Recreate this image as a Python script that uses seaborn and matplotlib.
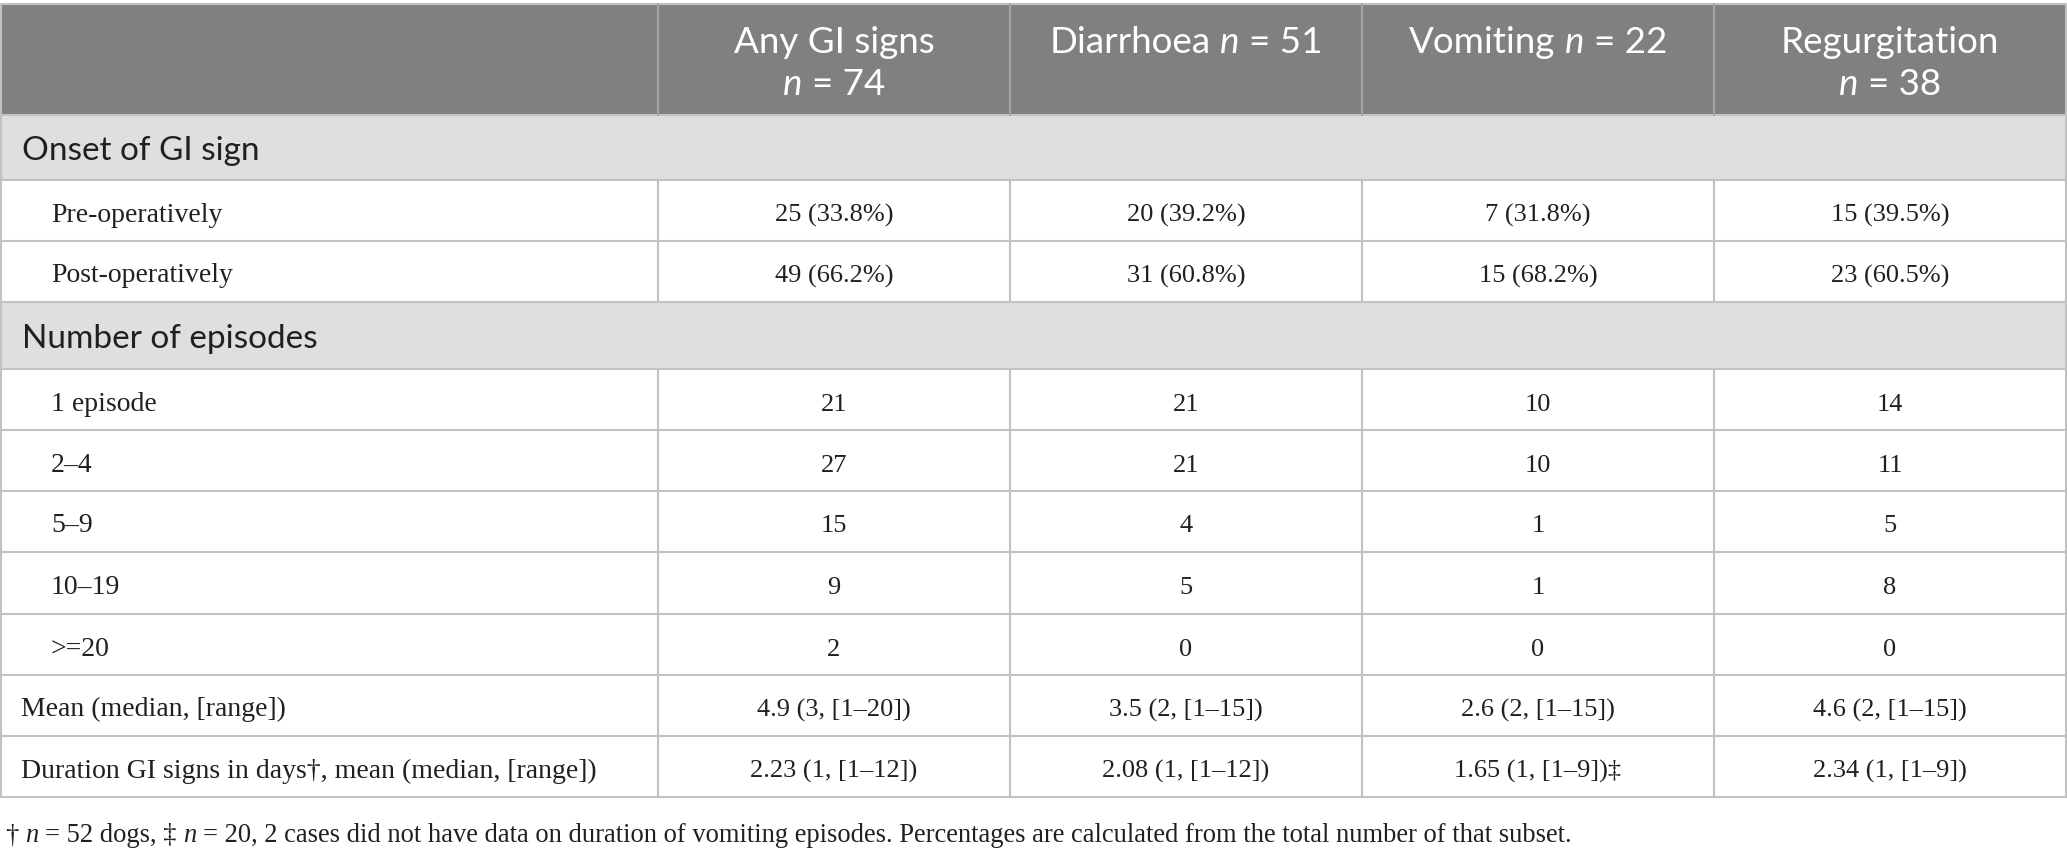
import matplotlib.pyplot as plt
import seaborn as sns
from matplotlib.patches import Rectangle

# table content
columns = ["Any GI signs", "Diarrhoea", "Vomiting", "Regurgitation"]
n_values = [74, 51, 22, 38]
two_line_header = [True, False, False, True]

onset_title = "Onset of GI sign"
onset_labels = ["Pre-operatively", "Post-operatively"]
onset_counts = [[25, 49], [20, 31], [7, 15], [15, 23]]
onset_pct = [[33.8, 66.2], [39.2, 60.8], [31.8, 68.2], [39.5, 60.5]]

episode_title = "Number of episodes"
episode_labels = ["1 episode", "2\u20134", "5\u20139", "10\u201319", ">=20"]
episode_counts = [[21, 27, 15, 9, 2],
                  [21, 21, 4, 5, 0],
                  [10, 10, 1, 1, 0],
                  [14, 11, 5, 8, 0]]

mean_label = "Mean (median, [range])"
mean_values = ["4.9 (3, [1\u201320])", "3.5 (2, [1\u201315])",
               "2.6 (2, [1\u201315])", "4.6 (2, [1\u201315])"]
duration_label = "Duration GI signs in days\u2020, mean (median, [range])"
duration_values = ["2.23 (1, [1\u201312])", "2.08 (1, [1\u201312])",
                   "1.65 (1, [1\u20139])\u2021", "2.34 (1, [1\u20139])"]

footnote = [("\u2020 ", False), ("n", True), (" = 52 dogs, \u2021 ", False), ("n", True),
            (" = 20, 2 cases did not have data on duration of vomiting episodes. "
             "Percentages are calculated from the total number of that subset.", False)]

sns.set_theme(style="white")
plt.rcParams['font.family'] = ['Liberation Serif', 'DejaVu Serif']

W, H = 2067, 849
fig = plt.figure(figsize=(W / 100, H / 100), dpi=100)
ax = fig.add_axes([0, 0, 1, 1])
ax.set_xlim(0, W)
ax.set_ylim(H, 0)
ax.axis('off')
renderer = fig.canvas.get_renderer()

header_bg = '#7f817f'
section_bg = '#e0dfe0'
line_col = '#c2c2c2'
head_line = '#a3a4a3'
ink = '#231f20'
sans = ['Lato', 'DejaVu Sans']
serif = ['Liberation Serif', 'DejaVu Serif']

col_edges = [0, 658, 1010, 1362, 1714, 2066]
col_mid = [(a + b) / 2 for a, b in zip(col_edges[1:-1], col_edges[2:])]
row_h = [111, 65, 61, 61, 67, 61, 61, 61, 62, 61, 61, 61]
row_kind = ['head', 'sec', 'body', 'body', 'sec'] + ['body'] * 7
tops = [4]
for h in row_h:
    tops.append(tops[-1] + h)


def width_of(s, **kw):
    t = ax.text(0, 0, "|" + s + "|", **kw)
    w1 = t.get_window_extent(renderer).width
    t.remove()
    t = ax.text(0, 0, "||", **kw)
    w2 = t.get_window_extent(renderer).width
    t.remove()
    return w1 - w2


def draw_runs(x, y, runs, ha='left', **kw):
    widths = [width_of(s, style='italic' if it else 'normal', **kw) for s, it in runs]
    pos = x - sum(widths) / 2 if ha == 'center' else x
    for (s, it), w in zip(runs, widths):
        st = 'italic' if it else 'normal'
        lead = s[:len(s) - len(s.lstrip())]
        off = width_of(lead, style=st, **kw) if lead else 0
        ax.text(pos + off, y, s.strip(), style=st, ha='left', va='baseline', **kw)
        pos += w


# backgrounds
ax.add_patch(Rectangle((0, tops[0]), W, row_h[0], color=header_bg, lw=0))
for i, k in enumerate(row_kind):
    if k == 'sec':
        ax.add_patch(Rectangle((0, tops[i]), W, row_h[i], color=section_bg, lw=0))

# grid lines
for y in tops:
    ax.plot([0, W], [y, y], color=line_col, lw=1.5, solid_capstyle='butt')
ax.plot([1, 1], [tops[0], tops[-1]], color=line_col, lw=1.5)
ax.plot([W - 1, W - 1], [tops[0], tops[-1]], color=line_col, lw=1.5)
for x in col_edges[1:-1]:
    ax.plot([x, x], [tops[0], tops[1]], color=head_line, lw=1.5)
    for i, k in enumerate(row_kind):
        if k == 'body':
            ax.plot([x, x], [tops[i], tops[i + 1]], color=line_col, lw=1.5)

# header
head_kw = dict(fontsize=26.5, family=sans, color='white')
for j, name in enumerate(columns):
    n_run = [("n", True), (" = %d" % n_values[j], False)]
    if two_line_header[j]:
        draw_runs(col_mid[j], tops[0] + 48.5, [(name, False)], ha='center', **head_kw)
        draw_runs(col_mid[j], tops[0] + 90.5, n_run, ha='center', **head_kw)
    else:
        draw_runs(col_mid[j], tops[0] + 48.5, [(name + " ", False)] + n_run,
                  ha='center', **head_kw)


def base(i):
    return (tops[i] + tops[i + 1]) / 2


# section rows
sec_kw = dict(fontsize=24, family=sans, color=ink, va='baseline')
ax.text(22, base(1) + 12.5, onset_title, **sec_kw)
ax.text(22, base(4) + 12.5, episode_title, **sec_kw)

label_kw = dict(fontsize=20, family=serif, color=ink, va='baseline')
value_kw = dict(fontsize=19, family=serif, color=ink, va='baseline', ha='center')

for r, lab in enumerate(onset_labels):
    i = 2 + r
    ax.text(51, base(i) + 11, lab, **label_kw)
    for j in range(4):
        ax.text(col_mid[j], base(i) + 11,
                "%d (%.1f%%)" % (onset_counts[j][r], onset_pct[j][r]), **value_kw)

for r, lab in enumerate(episode_labels):
    i = 5 + r
    ax.text(51, base(i) + 11, lab, **label_kw)
    for j in range(4):
        ax.text(col_mid[j], base(i) + 11, str(episode_counts[j][r]), **value_kw)

ax.text(21, base(10) + 11, mean_label, **label_kw)
ax.text(21, base(11) + 11, duration_label, **label_kw)
for j in range(4):
    ax.text(col_mid[j], base(10) + 11, mean_values[j], **value_kw)
    ax.text(col_mid[j], base(11) + 11, duration_values[j], **value_kw)

# footnote
draw_runs(5, 842, footnote, fontsize=19.1, family=serif, color=ink)

plt.savefig('out.png', dpi=100)
